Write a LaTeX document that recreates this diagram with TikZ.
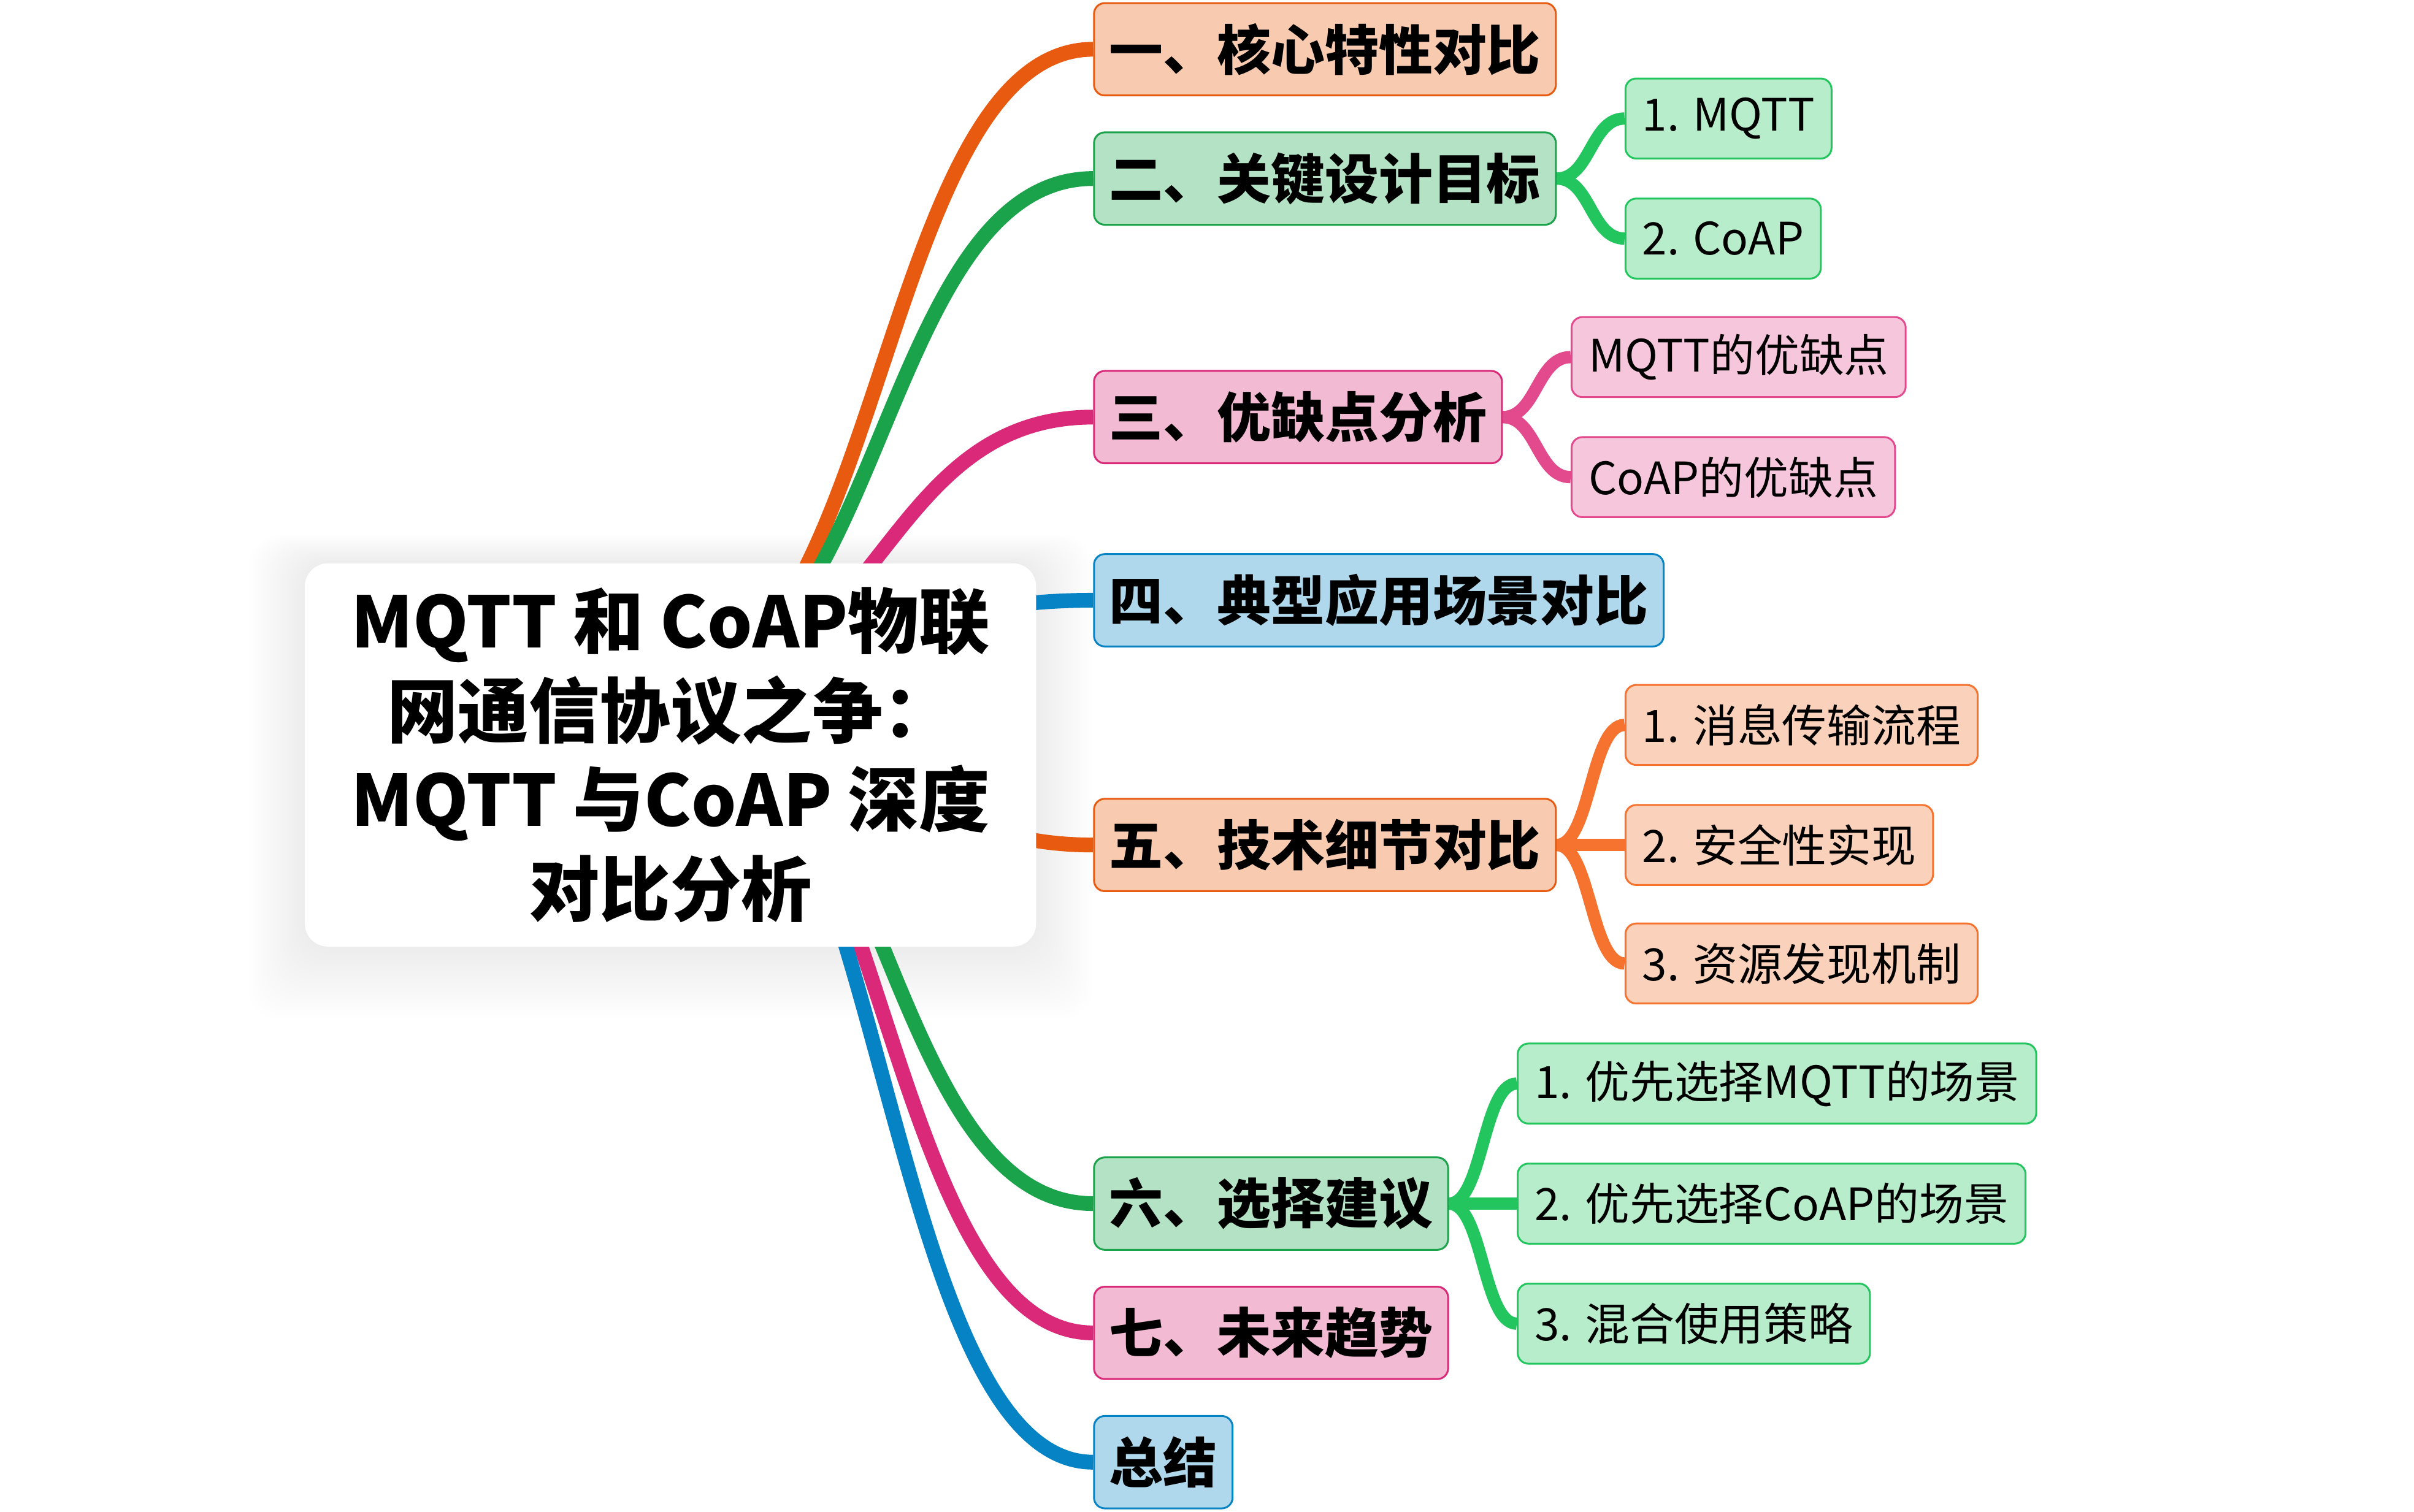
\documentclass[tikz,border=0pt]{standalone}
\usepackage{fontspec}
\setmainfont{Noto Sans CJK SC}
\usetikzlibrary{calc,backgrounds}

\definecolor{orangeline}{HTML}{E85A0F}
\definecolor{orangefill}{HTML}{F8CBB1}
\definecolor{greenline}{HTML}{1AA34A}
\definecolor{greenfill}{HTML}{B4E2C5}
\definecolor{pinkline}{HTML}{D92978}
\definecolor{pinkfill}{HTML}{F2BBD3}
\definecolor{blueline}{HTML}{0683C4}
\definecolor{bluefill}{HTML}{B0D8EC}
\definecolor{mintline}{HTML}{22C55E}
\definecolor{mintfill}{HTML}{B8EDCB}
\definecolor{roseline}{HTML}{E24A8D}
\definecolor{rosefill}{HTML}{F6C6DC}
\definecolor{apricotline}{HTML}{F5732E}
\definecolor{apricotfill}{HTML}{FAD1BA}

\tikzset{
  topic/.style={draw=#1line,fill=#1fill,line width=0.6pt,rounded corners=3.5pt,
    minimum height=30pt,inner xsep=5pt,inner ysep=0pt,anchor=west,
    font=\fontsize{17.5}{20}\selectfont\bfseries},
  subtopic/.style={draw=#1line,fill=#1fill,line width=0.6pt,rounded corners=3.5pt,
    minimum height=26pt,inner xsep=5.5pt,inner ysep=0pt,anchor=west,
    font=\fontsize{14.5}{17}\selectfont},
  link/.style={draw=#1line,line width=4.8pt,
    to path={let \p1=(\tikztostart),\p2=(\tikztotarget) in
      .. controls ({(\x1+\x2)/2},\y1) and ({(\x1+\x2)/2},\y2) .. (\tikztotarget)}},
  sublink/.style={link=#1,line width=4pt}
}

\begin{document}
\begin{tikzpicture}[x=0.5pt,y=-0.5pt]
\useasboundingbox (0,0) rectangle (1568,982);

\node[fill=white,rounded corners=7.5pt,minimum width=237.5pt,minimum height=124.5pt,
  align=center,font=\fontsize{23}{29}\selectfont\bfseries] (root) at (435.5,490.5)
  {MQTT 和 CoAP物联\\网通信协议之争：\\MQTT 与CoAP 深度\\对比分析};
\coordinate (hub) at ($(root.center)+(0,-45)$);

\node[topic=orange] (core) at (710,32) {一、核心特性对比};
\node[topic=green] (goal) at (710,116) {二、关键设计目标};
\node[topic=pink] (pros) at (710,271) {三、优缺点分析};
\node[topic=blue] (usage) at (710,390) {四、典型应用场景对比};
\node[topic=orange] (tech) at (710,549) {五、技术细节对比};
\node[topic=green] (advice) at (710,782) {六、选择建议};
\node[topic=pink] (trend) at (710,866) {七、未来趋势};
\node[topic=blue] (summary) at (710,950) {总结};

\node[subtopic=mint] (goalmqtt) at ($(goal.east)+(44,-39)$) {1. MQTT};
\node[subtopic=mint] (goalcoap) at ($(goal.east)+(44,39)$) {2. CoAP};
\node[subtopic=rose] (prosmqtt) at ($(pros.east)+(44,-39)$) {MQTT的优缺点};
\node[subtopic=rose] (proscoap) at ($(pros.east)+(44,39)$) {CoAP的优缺点};
\node[subtopic=apricot] (techflow) at ($(tech.east)+(44,-78)$) {1. 消息传输流程};
\node[subtopic=apricot] (techsec) at ($(tech.east)+(44,0)$) {2. 安全性实现};
\node[subtopic=apricot] (techdisc) at ($(tech.east)+(44,77)$) {3. 资源发现机制};
\node[subtopic=mint] (advmqtt) at ($(advice.east)+(44,-78)$) {1. 优先选择MQTT的场景};
\node[subtopic=mint] (advcoap) at ($(advice.east)+(44,0)$) {2. 优先选择CoAP的场景};
\node[subtopic=mint] (advmix) at ($(advice.east)+(44,78)$) {3. 混合使用策略};

\begin{scope}[on background layer]
\fill[white] (0,0) rectangle (1568,982);
\foreach \s in {2,4,...,36}
  \fill[black,opacity=0.0045,rounded corners=10pt]
    ($(root.north west)+(-\s,-0.5*\s)$) rectangle ($(root.south east)+(\s,1.3*\s)$);
\draw[link=orange] (hub) to (core.west);
\draw[link=green] (hub) to (goal.west);
\draw[link=pink] (hub) to (pros.west);
\draw[link=blue] (hub) to (usage.west);
\draw[link=orange] (hub) to (tech.west);
\draw[link=green] (hub) to (advice.west);
\draw[link=pink] (hub) to (trend.west);
\draw[link=blue] (hub) to (summary.west);
\draw[sublink=mint] (goal.east) to (goalmqtt.west);
\draw[sublink=mint] (goal.east) to (goalcoap.west);
\draw[sublink=rose] (pros.east) to (prosmqtt.west);
\draw[sublink=rose] (pros.east) to (proscoap.west);
\draw[sublink=apricot] (tech.east) to (techflow.west);
\draw[sublink=apricot] (tech.east) to (techsec.west);
\draw[sublink=apricot] (tech.east) to (techdisc.west);
\draw[sublink=mint] (advice.east) to (advmqtt.west);
\draw[sublink=mint] (advice.east) to (advcoap.west);
\draw[sublink=mint] (advice.east) to (advmix.west);
\end{scope}
\end{tikzpicture}
\end{document}
